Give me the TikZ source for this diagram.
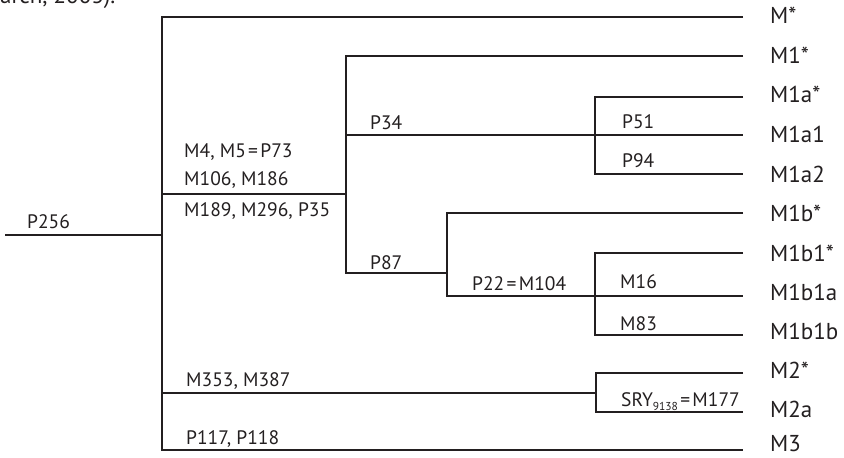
\documentclass[tikz,border=0pt]{standalone}
\usepackage{fontspec}
\setmainfont{PT Sans}
\definecolor{ink}{HTML}{231F20}
\newcommand{\eqs}{\hspace{0.12em}=\hspace{0.12em}}
\begin{document}
\begin{tikzpicture}[x=1pt,y=-1pt,
  br/.style={draw=ink, line width=2pt, line join=miter},
  lab/.style={anchor=base west, inner sep=0pt, text=ink, font=\fontsize{19.5}{20}\selectfont},
  leaf/.style={anchor=base west, inner sep=0pt, text=ink, font=\fontsize{23}{24}\selectfont}]
\useasboundingbox (0,0) rectangle (844,458);
\begin{scope}
\clip (0,0) rectangle (844,458);
\node[leaf] (cut) at (0,3) {arch, 2003).};
\end{scope}

% coordinates of the tree
\coordinate (r0) at (5,235);
\coordinate (j0) at (162,235);
\coordinate (tM) at (743,17);
\coordinate (tM3) at (743,450);
\coordinate (j1) at (346,194);
\coordinate (tM1) at (743,56);
\coordinate (j2) at (595,135);
\coordinate (tM1a) at (743,97);
\coordinate (tM1a1) at (743,135);
\coordinate (tM1a2) at (743,174);
\coordinate (j3) at (447,273);
\coordinate (tM1b) at (743,213);
\coordinate (j4) at (595,296);
\coordinate (tM1b1) at (743,253);
\coordinate (tM1b1a) at (743,296);
\coordinate (tM1b1b) at (743,335);
\coordinate (j5) at (596,393);
\coordinate (tM2) at (743,373);
\coordinate (tM2a) at (743,412);

% root
\draw[br] (r0) -- (j0);
\draw[br] (tM) -| (j0) |- (tM3);
% M1 clade
\draw[br] (j0 |- j1) -- (j1);
\draw[br] (tM1) -| (j1) |- (j3);
\draw[br] (j1 |- j2) -- (j2);
\draw[br] (tM1a) -| (j2) |- (tM1a2);
\draw[br] (j2) -- (tM1a1);
\draw[br] (j3) -- (j3 |- j4);
\draw[br] (tM1b) -| (j3) |- (j4);
\draw[br] (tM1b1) -| (j4 |- tM1b1) |- (tM1b1b);
\draw[br] (j4) -- (tM1b1a);
% M2 clade
\draw[br] (j0 |- j5) -- (j5);
\draw[br] (tM2) -| (j5) |- (tM2a);

% branch labels
\node[lab] (l256) at (27,228) {P256};
\node[lab] (l73) at (184,157) {M4, M5\eqs P73};
\node[lab] (l106) at (184,185) {M106, M186};
\node[lab] (l189) at (184,216) {M189, M296, P35};
\node[lab] (l34) at (370,129) {P34};
\node[lab] (l87) at (370,269) {P87};
\node[lab] (l51) at (622,128) {P51};
\node[lab] (l94) at (622,167) {P94};
\node[lab] (l22) at (472,290) {P22\eqs M104};
\node[lab] (l16) at (620,288) {M16};
\node[lab] (l83) at (620,330) {M83};
\node[lab] (l353) at (186,386) {M353, M387};
\node[lab] (l117) at (186,444) {P117, P118};
\node[lab] (lsry) at (621,406) {SRY\raisebox{-0.22em}{\fontsize{11.5}{12}\selectfont 9138}\eqs M177};

% leaf labels
\node[leaf] (nM) at (770,23) {M*};
\node[leaf] (nM1) at (770,63) {M1*};
\node[leaf] (nM1a) at (770,102) {M1a*};
\node[leaf] (nM1a1) at (770,142) {M1a1};
\node[leaf] (nM1a2) at (770,182) {M1a2};
\node[leaf] (nM1b) at (770,221) {M1b*};
\node[leaf] (nM1b1) at (770,261) {M1b1*};
\node[leaf] (nM1b1a) at (770,300) {M1b1a};
\node[leaf] (nM1b1b) at (770,339) {M1b1b};
\node[leaf] (nM2) at (770,378) {M2*};
\node[leaf] (nM2a) at (770,417) {M2a};
\node[leaf] (nM3) at (770,451) {M3};
\end{tikzpicture}
\end{document}
